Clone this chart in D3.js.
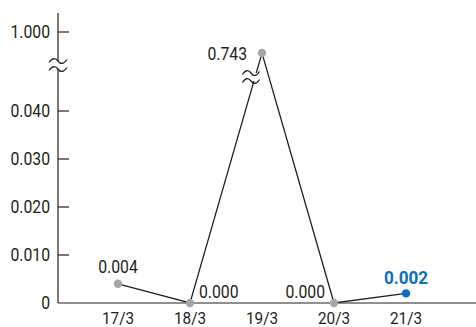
<!DOCTYPE html>
<html><head><meta charset="utf-8">
<script src="https://cdn.jsdelivr.net/npm/d3@7"></script>
<style>body{margin:0;background:#fff}svg{display:block}text{font-family:Roboto,"Liberation Sans",Arial,sans-serif;}</style>
</head><body>
<svg id="c" width="476" height="327"></svg>
<script>
const categories = ["17/3","18/3","19/3","20/3","21/3"];
const values = [0.004, 0.000, 0.743, 0.000, 0.002];
const valueLabels = ["0.004","0.000","0.743","0.000","0.002"];
const yTicks = [0, 0.010, 0.020, 0.030, 0.040, 1.000];
const yTickLabels = ["0","0.010","0.020","0.030","0.040","1.000"];

const svg = d3.select("#c");
const W = 476;
const x0 = 58, yBase = 303;
const x = d3.scalePoint().domain(categories).range([118, 406]);
const y = d3.scaleLinear().domain([0, 0.04, 0.7, 1]).range([303, 111, 56.5, 32]);
const lineCol = "#231f20", gray = "#a6a6a6", blue = "#0a6fc2", txt = "#231f20";
const FS = 17.5, SX = 0.9;

function label(t, px, py, anchor, opts = {}) {
  const el = svg.append("text").attr("x", px).attr("y", py).attr("text-anchor", anchor)
    .attr("font-size", opts.size || FS).attr("font-weight", opts.bold ? "bold" : "normal")
    .attr("fill", opts.color || txt).text(t);
  const w = el.node().getComputedTextLength();
  el.attr("textLength", w * SX).attr("lengthAdjust", "spacingAndGlyphs");
  return el;
}

// axes
svg.append("line").attr("x1", x0).attr("x2", x0).attr("y1", 13).attr("y2", yBase).attr("stroke", lineCol).attr("stroke-width", 1.2);
svg.append("line").attr("x1", x0).attr("x2", W).attr("y1", yBase).attr("y2", yBase).attr("stroke", lineCol).attr("stroke-width", 1.2);
yTicks.forEach((t, i) => {
  if (t > 0) svg.append("line").attr("x1", x0).attr("x2", x0 + 11).attr("y1", y(t)).attr("y2", y(t)).attr("stroke", lineCol).attr("stroke-width", 1.2);
  label(yTickLabels[i], 50, y(t) + 6, "end");
});
categories.forEach(c => label(c, x(c), 323.5, "middle", {size: 17}));

// line
const pts = categories.map((c, i) => [x(c), y(values[i])]);
svg.append("path").attr("d", d3.line()(pts)).attr("fill", "none").attr("stroke", lineCol).attr("stroke-width", 1.3);

// break symbols
function tilde(cx, cy, w) {
  const h = w / 2;
  return `M${cx - h},${cy + 1.5} C${cx - h * 0.6},${cy - 4} ${cx - h * 0.25},${cy - 3} ${cx},${cy} C${cx + h * 0.25},${cy + 3} ${cx + h * 0.6},${cy + 4} ${cx + h},${cy - 1.5}`;
}
function brk(cx, y1, y2, w) {
  svg.append("rect").attr("x", cx - w / 2 - 1).attr("y", y1).attr("width", w + 2).attr("height", y2 - y1).attr("fill", "#fff");
  [y1, y2].forEach(yy => svg.append("path").attr("d", tilde(cx, yy, w)).attr("fill", "none").attr("stroke", lineCol).attr("stroke-width", 1.3));
}
brk(x0, 61, 69, 18);
brk(x(categories[2]) - 11, 73, 81, 17);

// points
categories.forEach((c, i) => {
  svg.append("circle").attr("cx", x(c)).attr("cy", y(values[i])).attr("r", 4.2).attr("fill", i === 4 ? blue : gray);
});

// value labels
label(valueLabels[0], x(categories[0]), y(values[0]) - 11, "middle");
label(valueLabels[1], x(categories[1]) + 9, y(values[1]) - 5, "start");
label(valueLabels[2], x(categories[2]) - 15, y(values[2]) + 7, "end");
label(valueLabels[3], x(categories[3]) - 9, y(values[3]) - 5, "end");
label(valueLabels[4], x(categories[4]), y(values[4]) - 9.5, "middle", {bold: true, color: blue, size: 19});
</script>
</body></html>
